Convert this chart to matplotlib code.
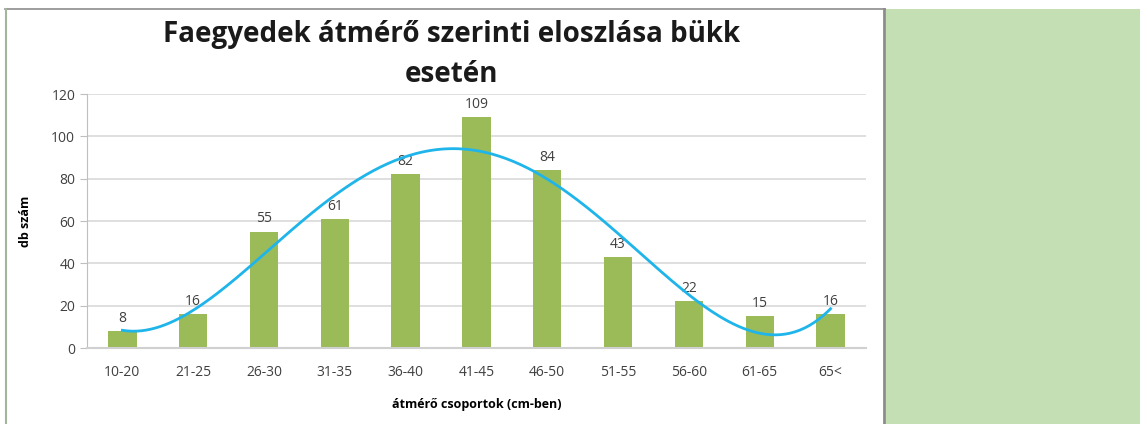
import numpy as np
import matplotlib.pyplot as plt
from matplotlib.patches import Rectangle
from matplotlib.lines import Line2D

categories = ['10-20', '21-25', '26-30', '31-35', '36-40', '41-45',
              '46-50', '51-55', '56-60', '61-65', '65<']
counts = [8, 16, 55, 61, 82, 109, 84, 43, 22, 15, 16]
yticks = [0, 20, 40, 60, 80, 100, 120]

plt.rcParams['font.family'] = ['Open Sans', 'DejaVu Sans']

fig = plt.figure(figsize=(11.4, 4.24), dpi=100)
fig.patch.set_facecolor('white')

# green panel on the right and the frame of the chart area
fig.patches.append(Rectangle((0.777, 0), 0.223, 1 - 9 / 424, transform=fig.transFigure,
                             facecolor='#c5dfb4', edgecolor='none', zorder=0))
fig.lines.append(Line2D([5 / 1140, 885 / 1140], [1 - 9 / 424, 1 - 9 / 424],
                        transform=fig.transFigure, color='#8c8c8c', lw=1.2))
fig.lines.append(Line2D([6 / 1140, 6 / 1140], [0, 1 - 9 / 424],
                        transform=fig.transFigure, color='#a3b59a', lw=1.5))
fig.lines.append(Line2D([884 / 1140, 884 / 1140], [0, 1 - 9 / 424],
                        transform=fig.transFigure, color='#8c8c8c', lw=2))

ax = fig.add_axes([0.0763, 0.1792, 0.6833, 0.599])
x = np.arange(1, len(categories) + 1)
ax.bar(x, counts, width=0.4, color='#9bbb59', zorder=2)

for xi, v in zip(x, counts):
    ax.text(xi, v + 2.5, str(v), ha='center', va='bottom', fontsize=10, color='#404040')

# polynomial trendline
coef = np.polyfit(x, counts, 4)
xs = np.linspace(1, len(categories), 300)
ax.plot(xs, np.polyval(coef, xs), color='#1fb5ea', lw=2, zorder=3)

ax.set_xlim(0.5, len(categories) + 0.5)
ax.set_ylim(0, 120)
ax.set_yticks(yticks)
ax.set_xticks(x)
ax.set_xticklabels(categories)
ax.grid(axis='y', color='#d9d9d9', lw=1.2, zorder=0)
ax.set_axisbelow(True)
for s in ['top', 'right']:
    ax.spines[s].set_visible(False)
ax.spines['left'].set_color('#bfbfbf')
ax.spines['bottom'].set_color('#d0d0d0')
ax.spines['bottom'].set_linewidth(1.5)
ax.tick_params(axis='y', colors='#bfbfbf', labelcolor='#404040', labelsize=10, length=5)
ax.tick_params(axis='x', length=0, labelcolor='#404040', labelsize=10, pad=12)

ax.set_xlabel('átmérő csoportok (cm-ben)', fontsize=9, fontweight='bold', labelpad=13)
ax.set_ylabel('db szám', fontsize=9, fontweight='bold', labelpad=14)

fig.text(0.396, 0.918, 'Faegyedek átmérő szerinti eloszlása bükk', ha='center', va='center',
         fontsize=20, fontweight='bold', color='#1a1a1a')
fig.text(0.396, 0.825, 'esetén', ha='center', va='center',
         fontsize=20, fontweight='bold', color='#1a1a1a')

fig.savefig('out.png', dpi=100)
